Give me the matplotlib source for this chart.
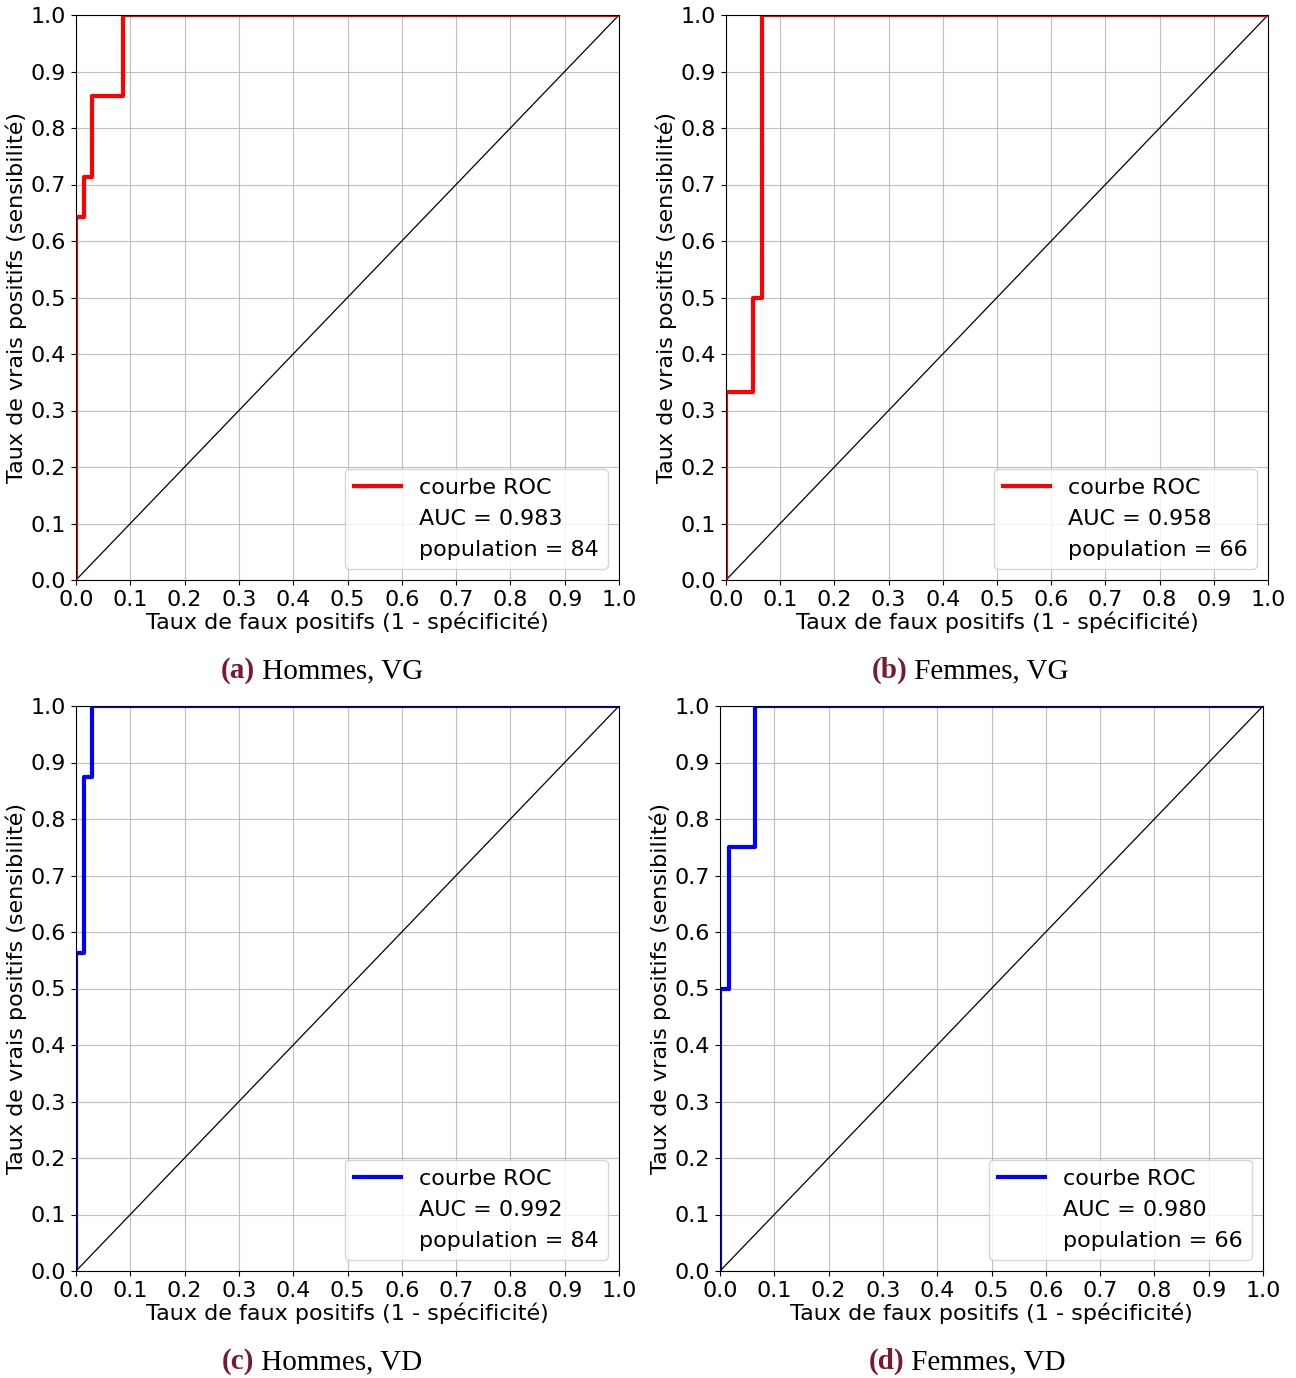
import numpy as np
import matplotlib.pyplot as plt
from matplotlib.lines import Line2D

# Données ROC (fpr, tpr)
fpr_a = [0.0, 0.0, 0.0143, 0.0143, 0.0286, 0.0286, 0.0857, 0.0857, 1.0]
tpr_a = [0.0, 0.643, 0.643, 0.714, 0.714, 0.857, 0.857, 1.0, 1.0]
fpr_b = [0.0, 0.0, 0.05, 0.05, 0.0667, 0.0667, 1.0]
tpr_b = [0.0, 0.333, 0.333, 0.5, 0.5, 1.0, 1.0]
fpr_c = [0.0, 0.0, 0.0147, 0.0147, 0.0294, 0.0294, 1.0]
tpr_c = [0.0, 0.5625, 0.5625, 0.875, 0.875, 1.0, 1.0]
fpr_d = [0.0, 0.0, 0.0161, 0.0161, 0.0645, 0.0645, 1.0]
tpr_d = [0.0, 0.5, 0.5, 0.75, 0.75, 1.0, 1.0]

auc_vals = [0.983, 0.958, 0.992, 0.980]
populations = [84, 66, 84, 66]
colors = ['red', 'red', 'blue', 'blue']
letters = ['(a)', '(b)', '(c)', '(d)']
captions = ['Hommes, VG', 'Femmes, VG', 'Hommes, VD', 'Femmes, VD']

W, H = 1296, 1378
fig = plt.figure(figsize=(W / 100, H / 100), dpi=100)

# position des axes en pixels: (gauche, droite, haut, bas)
boxes = [(76, 619, 15, 580), (726, 1268, 15, 580),
         (76, 619, 706, 1271), (720, 1263, 706, 1271)]
cap_x = [322, 970, 322, 967]
cap_y = [678, 678, 1369, 1369]

data = [(fpr_a, tpr_a), (fpr_b, tpr_b), (fpr_c, tpr_c), (fpr_d, tpr_d)]
ticks = np.round(np.arange(0, 1.01, 0.1), 1)
fs = 16

renderer = fig.canvas.get_renderer()
for i in range(4):
    l, r, t, b = boxes[i]
    ax = fig.add_axes([l / W, 1 - b / H, (r - l) / W, (b - t) / H])
    fpr, tpr = data[i]
    ax.plot([0, 1], [0, 1], color='black', lw=0.9)
    ax.plot(fpr, tpr, color=colors[i], lw=3)
    ax.set_xlim(0, 1)
    ax.set_ylim(0, 1)
    ax.set_xticks(ticks)
    ax.set_yticks(ticks)
    ax.tick_params(labelsize=fs)
    ax.grid(True, color='#b0b0b0', lw=0.8, alpha=0.8)
    ax.set_xlabel('Taux de faux positifs (1 - spécificité)', fontsize=fs, labelpad=1)
    ax.set_ylabel('Taux de vrais positifs (sensibilité)', fontsize=fs, labelpad=3)
    handles = [Line2D([], [], color=colors[i], lw=3),
               Line2D([], [], color='none'),
               Line2D([], [], color='none')]
    labels = ['courbe ROC', f'AUC = {auc_vals[i]:.3f}', f'population = {populations[i]}']
    ax.legend(handles, labels, loc='lower right', fontsize=fs, handlelength=2.15)

    # légende de sous-figure centrée : "(a)" en gras bordeaux + texte
    yb = 1 - cap_y[i] / H
    t1 = fig.text(0, yb, letters[i], ha='left', va='baseline', fontsize=21,
                  fontweight='bold', color='#7a1a2e', family='Liberation Serif')
    t2 = fig.text(0, yb, ' ' + captions[i], ha='left', va='baseline', fontsize=21,
                  color='black', family='Liberation Serif')
    w1 = t1.get_window_extent(renderer).width
    w2 = t2.get_window_extent(renderer).width
    x0 = cap_x[i] - (w1 + w2) / 2
    t1.set_x(x0 / W)
    t2.set_x((x0 + w1) / W)

plt.savefig('out.png', dpi=100)
